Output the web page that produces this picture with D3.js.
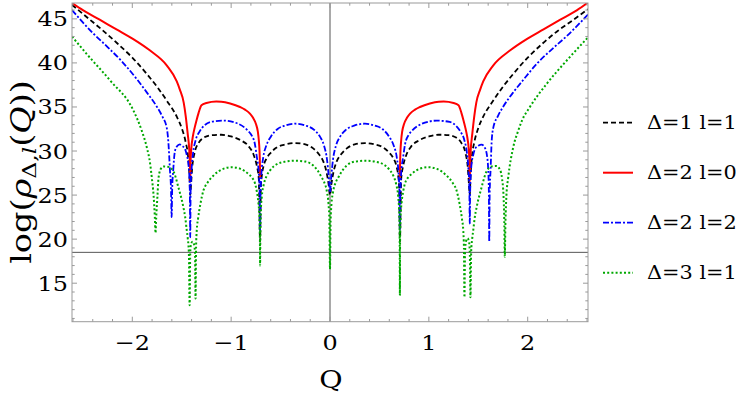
<!DOCTYPE html>
<html>
<head>
<meta charset="utf-8">
<script src="https://cdn.jsdelivr.net/npm/d3@7"></script>
<style>
body { margin: 0; background: #fff; }
svg { display: block; }
text { font-family: "DejaVu Serif", serif; fill: #000; }
</style>
</head>
<body>
<svg width="747" height="396"></svg>
<script>
var width = 747, height = 396;
var plotLeft = 72, plotRight = 588, plotTop = 3, plotBottom = 321.7;

var xTickLabels = [-2, -1, 0, 1, 2];
var yTickLabels = [15, 20, 25, 30, 35, 40, 45];
var legendLabels = ["Δ=1 l=1", "Δ=2 l=0", "Δ=2 l=2", "Δ=3 l=1"];
var axisCrossY = 18.5;

// Δ=1 l=1 (black dashed)
var seriesD1L1 = [
  [-2.61,46.6],[-2.45,45.1],[-2.3,43.7],[-2.15,42.2],[-2.0,40.6],[-1.85,38.7],[-1.75,37.3],[-1.65,35.7],
  [-1.55,33.9],[-1.5,32.6],[-1.46,31.0],[-1.435,29.3],[-1.421,27.0],[-1.414,25.0],[-1.407,26.0],[-1.395,28.0],
  [-1.37,29.8],[-1.33,30.9],[-1.28,31.5],[-1.2,31.8],[-1.1,31.85],[-1.0,31.65],[-0.9,31.2],[-0.82,30.5],
  [-0.77,29.5],[-0.74,28.3],[-0.72,26.8],[-0.7071,19.7],[-0.7,25.8],[-0.69,27.2],[-0.672,28.3],[-0.64,29.2],
  [-0.6,29.8],[-0.54,30.4],[-0.45,30.75],[-0.354,30.9],[-0.25,30.75],[-0.17,30.3],[-0.11,29.6],[-0.067,28.8],
  [-0.035,27.6],[-0.015,26.3],[0,25.0],
  [0.015,26.3],[0.035,27.6],[0.067,28.8],[0.11,29.6],[0.17,30.3],[0.25,30.75],[0.354,30.9],[0.45,30.75],
  [0.54,30.4],[0.6,29.8],[0.64,29.2],[0.672,28.3],[0.69,27.2],[0.7,25.8],[0.7071,19.7],[0.72,26.8],
  [0.74,28.3],[0.77,29.5],[0.82,30.5],[0.9,31.2],[1.0,31.65],[1.1,31.85],[1.2,31.8],[1.28,31.5],
  [1.33,30.9],[1.37,29.8],[1.395,28.0],[1.407,26.0],[1.414,25.0],[1.421,27.0],[1.435,29.3],[1.46,31.0],
  [1.5,32.6],[1.55,33.9],[1.65,35.7],[1.75,37.3],[1.85,38.7],[2.0,40.6],[2.15,42.2],[2.3,43.6],
  [2.45,44.8],[2.61,46.1]
];

// Δ=2 l=0 (red), nothing drawn for |Q| < 0.707
var seriesD2L0 = [
  [-2.61,46.8],[-2.5,46.0],[-2.33,44.9],[-2.16,43.8],[-1.99,42.7],[-1.82,41.4],[-1.65,39.7],[-1.55,37.9],
  [-1.52,37.0],[-1.48,35.5],[-1.46,34.0],[-1.44,32.0],[-1.423,30.0],[-1.417,28.5],[-1.414,26.5],[-1.411,28.5],
  [-1.405,30.0],[-1.385,31.8],[-1.37,32.6],[-1.35,33.5],[-1.33,34.3],[-1.3,35.2],[-1.25,35.45],[-1.15,35.62],
  [-1.1,35.6],[-1.01,35.4],[-0.91,35.0],[-0.86,34.7],[-0.81,34.25],[-0.78,33.8],[-0.75,33.1],[-0.73,32.2],
  [-0.72,31.2],[-0.713,30.0],[-0.709,28.5],[-0.7071,27.0],
  [0,null],
  [0.7071,27.0],[0.709,28.5],[0.713,30.0],[0.72,31.2],[0.73,32.2],[0.75,33.1],[0.78,33.8],[0.81,34.25],
  [0.86,34.7],[0.91,35.0],[1.01,35.4],[1.1,35.6],[1.15,35.62],[1.25,35.45],[1.3,35.2],[1.33,34.3],
  [1.35,33.5],[1.37,32.6],[1.385,31.8],[1.405,30.0],[1.411,28.5],[1.414,26.5],[1.417,28.5],[1.423,30.0],
  [1.44,32.0],[1.46,34.0],[1.48,35.5],[1.52,37.0],[1.55,37.9],[1.65,39.7],[1.82,41.4],[1.99,42.7],
  [2.16,43.8],[2.33,44.9],[2.5,46.0],[2.61,46.85]
];

// Δ=2 l=2 (blue dash-dot)
var seriesD2L2 = [
  [-2.61,46.0],[-2.4,43.4],[-2.25,41.8],[-2.1,40.1],[-1.95,38.1],[-1.85,36.6],[-1.75,35.0],[-1.7,34.0],
  [-1.651,32.6],[-1.635,31.0],[-1.62,28.0],[-1.608,25.5],[-1.602,22.5],[-1.597,25.5],[-1.585,28.0],[-1.57,29.9],
  [-1.55,30.5],[-1.52,30.75],[-1.5,30.6],[-1.47,30.3],[-1.45,29.6],[-1.43,28.3],[-1.418,25.5],[-1.414,20.2],
  [-1.41,25.5],[-1.4,28.0],[-1.385,29.8],[-1.36,31.2],[-1.32,32.2],[-1.28,32.8],[-1.21,33.3],[-1.08,33.45],
  [-0.93,33.1],[-0.83,32.3],[-0.8,31.9],[-0.76,30.8],[-0.74,29.3],[-0.72,27.5],[-0.711,25.0],[-0.7071,21.0],
  [-0.703,25.0],[-0.695,27.2],[-0.675,29.3],[-0.645,30.6],[-0.6,31.6],[-0.53,32.5],[-0.45,32.9],[-0.354,33.1],
  [-0.25,32.9],[-0.16,32.4],[-0.1,31.6],[-0.06,30.6],[-0.03,29.0],[-0.012,27.0],[0,25.3],
  [0.012,27.0],[0.03,29.0],[0.06,30.6],[0.1,31.6],[0.16,32.4],[0.25,32.9],[0.354,33.1],[0.45,32.9],
  [0.53,32.5],[0.6,31.6],[0.645,30.6],[0.675,29.3],[0.695,27.2],[0.703,25.0],[0.7071,21.0],[0.711,25.0],
  [0.72,27.5],[0.74,29.3],[0.76,30.8],[0.8,31.9],[0.83,32.3],[0.93,33.1],[1.08,33.45],[1.21,33.3],
  [1.28,32.8],[1.32,32.2],[1.36,31.2],[1.385,29.8],[1.4,28.0],[1.41,25.5],[1.414,21.75],[1.418,25.5],
  [1.43,28.3],[1.45,29.6],[1.47,30.3],[1.5,30.6],[1.534,30.73],[1.565,30.4],[1.585,29.7],[1.6,28.0],
  [1.607,25.5],[1.611,19.7],[1.615,25.0],[1.625,28.0],[1.635,31.0],[1.651,32.6],[1.7,34.0],[1.75,35.0],
  [1.85,36.6],[1.95,38.0],[2.1,40.0],[2.25,41.6],[2.4,43.1],[2.61,45.5]
];

// Δ=3 l=1 (green dotted)
var seriesD3L1 = [
  [-2.61,43.0],[-2.46,41.0],[-2.224,38.0],[-1.989,34.6],[-1.904,32.3],[-1.853,30.4],[-1.82,28.6],[-1.803,27.0],
  [-1.785,25.0],[-1.772,22.5],[-1.765,20.7],[-1.758,22.5],[-1.745,25.0],[-1.735,26.9],[-1.715,27.9],[-1.685,28.25],
  [-1.635,28.2],[-1.584,27.7],[-1.534,25.9],[-1.483,23.6],[-1.465,22.5],[-1.449,21.0],[-1.44,20.2],[-1.428,18.5],
  [-1.42,12.5],[-1.414,18.4],[-1.405,19.5],[-1.39,19.7],[-1.375,19.4],[-1.366,18.5],[-1.36,13.25],[-1.355,19.0],
  [-1.348,21.0],[-1.335,22.3],[-1.311,24.0],[-1.281,25.5],[-1.24,26.4],[-1.18,27.2],[-1.08,27.98],[-0.994,28.16],
  [-0.91,28.0],[-0.826,27.4],[-0.79,27.0],[-0.758,26.3],[-0.74,25.4],[-0.725,24.2],[-0.714,22.5],[-0.709,20.0],
  [-0.7071,17.0],[-0.705,20.0],[-0.7,23.0],[-0.69,24.8],[-0.67,26.2],[-0.64,27.2],[-0.6,27.9],[-0.539,28.5],
  [-0.45,28.8],[-0.354,28.9],[-0.25,28.8],[-0.169,28.35],[-0.12,27.7],[-0.084,27.0],[-0.06,26.5],[-0.03,25.3],
  [-0.015,24.0],[-0.006,22.0],[0,16.6],
  [0.006,22.0],[0.015,24.0],[0.03,25.3],[0.06,26.5],[0.084,27.0],[0.12,27.7],[0.169,28.35],[0.25,28.8],
  [0.354,28.9],[0.45,28.8],[0.539,28.5],[0.6,27.9],[0.64,27.2],[0.67,26.2],[0.69,24.8],[0.7,23.0],
  [0.705,20.0],[0.7071,13.6],[0.709,20.0],[0.714,22.5],[0.725,24.2],[0.74,25.4],[0.758,26.3],[0.79,27.0],
  [0.826,27.4],[0.91,28.0],[0.994,28.16],[1.08,27.98],[1.18,27.2],[1.24,26.4],[1.281,25.5],[1.311,24.0],
  [1.335,22.3],[1.348,21.0],[1.355,19.0],[1.36,13.4],[1.366,18.5],[1.375,19.7],[1.39,20.1],[1.405,19.8],
  [1.414,18.6],[1.421,13.4],[1.428,18.5],[1.44,20.2],[1.449,21.0],[1.465,22.5],[1.483,23.6],[1.534,25.9],
  [1.584,27.7],[1.635,28.25],[1.685,28.3],[1.719,27.9],[1.74,26.9],[1.755,25.0],[1.763,22.0],[1.768,18.0],
  [1.775,22.0],[1.785,25.0],[1.803,27.0],[1.853,30.4],[1.904,32.3],[1.94,33.4],[2.022,35.0],[2.19,37.6],
  [2.393,40.25],[2.61,42.9]
];

var allSeries = [seriesD1L1, seriesD2L0, seriesD2L2, seriesD3L1];
var lineColors = ["#000000", "#ff0000", "#0000ff", "#00a800"];
var lineDashes = ["5,3", null, "6,2,2,2", "2,2.2"];
var lineWidths = [1.8, 2, 1.8, 2];
var textStretch = 1.14;

var svg = d3.select('svg');

var x = d3.scaleLinear().domain([-2.61, 2.61]).range([plotLeft, plotRight]);
var y = d3.scaleLinear().domain([10.63, 46.8]).range([plotBottom, plotTop]);

svg.append('defs')
    .append('clipPath').attr('id', 'plotClip')
    .append('rect')
        .attr('x', plotLeft).attr('y', plotTop)
        .attr('width', plotRight - plotLeft).attr('height', plotBottom - plotTop);

// axes through the plot
svg.append('line')
    .attr('x1', x(0)).attr('x2', x(0))
    .attr('y1', plotTop).attr('y2', plotBottom)
    .attr('stroke', '#555').attr('stroke-width', 1);
svg.append('line')
    .attr('x1', plotLeft).attr('x2', plotRight)
    .attr('y1', y(axisCrossY)).attr('y2', y(axisCrossY))
    .attr('stroke', '#555').attr('stroke-width', 1);

// curves
var line = d3.line()
    .defined(function(d){ return d[1] !== null; })
    .x(function(d){ return x(d[0]); })
    .y(function(d){ return y(d[1]); })
    .curve(d3.curveMonotoneX);

svg.append('g')
    .attr('clip-path', 'url(#plotClip)')
  .selectAll('path')
    .data(allSeries)
    .enter()
    .append('path')
        .attr('d', line)
        .attr('fill', 'none')
        .attr('stroke', function(d, i){ return lineColors[i]; })
        .attr('stroke-width', function(d, i){ return lineWidths[i]; })
        .attr('stroke-dasharray', function(d, i){ return lineDashes[i]; });

// frame with ticks on all four sides
var frame = svg.append('g').attr('class', 'frame');
frame.append('rect')
    .attr('x', plotLeft).attr('y', plotTop)
    .attr('width', plotRight - plotLeft).attr('height', plotBottom - plotTop)
    .attr('fill', 'none').attr('stroke', '#9a9a9a').attr('stroke-width', 1);

var xMinor = d3.range(-13, 14).map(function(i){ return i * 0.2; });
var yMinor = d3.range(11, 47);

xMinor.forEach(function(v){
    var major = Math.abs(v - Math.round(v)) < 1e-6;
    var len = major ? 5 : 2.7;
    frame.append('line').attr('x1', x(v)).attr('x2', x(v))
        .attr('y1', plotBottom).attr('y2', plotBottom - len)
        .attr('stroke', '#9a9a9a');
    frame.append('line').attr('x1', x(v)).attr('x2', x(v))
        .attr('y1', plotTop).attr('y2', plotTop + len)
        .attr('stroke', '#9a9a9a');
});
yMinor.forEach(function(v){
    var len = v % 5 === 0 ? 5 : 2.7;
    frame.append('line').attr('x1', plotLeft).attr('x2', plotLeft + len)
        .attr('y1', y(v)).attr('y2', y(v))
        .attr('stroke', '#9a9a9a');
    frame.append('line').attr('x1', plotRight).attr('x2', plotRight - len)
        .attr('y1', y(v)).attr('y2', y(v))
        .attr('stroke', '#9a9a9a');
});

// tick labels
svg.selectAll('.xlab')
    .data(xTickLabels)
    .enter()
    .append('text')
        .attr('class', 'xlab')
        .attr('transform', function(d){ return 'translate(' + x(d) + ',350) scale(' + textStretch + ',1)'; })
        .style('text-anchor', 'middle')
        .style('font-size', '21px')
        .text(function(d){ return d < 0 ? '\u2212' + Math.abs(d) : d; });

svg.selectAll('.ylab')
    .data(yTickLabels)
    .enter()
    .append('text')
        .attr('class', 'ylab')
        .attr('transform', function(d){ return 'translate(68,' + (y(d) + 7.5) + ') scale(' + textStretch + ',1)'; })
        .style('text-anchor', 'end')
        .style('font-size', '21px')
        .text(function(d){ return d; });

// axis titles
svg.append('text')
    .attr('transform', 'translate(331,388) scale(' + textStretch + ',1)')
    .style('text-anchor', 'middle')
    .style('font-size', '25px')
    .text('Q');

var yTitle = svg.append('text')
    .attr('transform', 'translate(31,172) rotate(-90) scale(1.24,1)')
    .style('text-anchor', 'middle')
    .style('font-size', '27px');
yTitle.append('tspan').text('log(');
yTitle.append('tspan').style('font-style', 'italic').text('ρ');
yTitle.append('tspan').attr('dy', 5).style('font-size', '19px').text('Δ,');
yTitle.append('tspan').style('font-size', '19px').style('font-style', 'italic').text('l');
yTitle.append('tspan').attr('dy', -5).text('(');
yTitle.append('tspan').style('font-style', 'italic').text('Q');
yTitle.append('tspan').text('))');

// legend
var legend = svg.selectAll('.legend')
    .data(legendLabels)
    .enter()
    .append('g')
        .attr('class', 'legend')
        .attr('transform', function(d, i){ return 'translate(603,' + (122.7 + 50 * i) + ')'; });

legend.append('line')
    .attr('x1', 0).attr('x2', 30)
    .attr('stroke', function(d, i){ return lineColors[i]; })
    .attr('stroke-width', function(d, i){ return lineWidths[i]; })
    .attr('stroke-dasharray', function(d, i){ return lineDashes[i]; });

legend.append('text')
    .attr('transform', 'translate(44,6.7) scale(' + textStretch + ',1)')
    .style('font-size', '18.3px')
    .text(function(d){ return d; });
</script>
</body>
</html>
